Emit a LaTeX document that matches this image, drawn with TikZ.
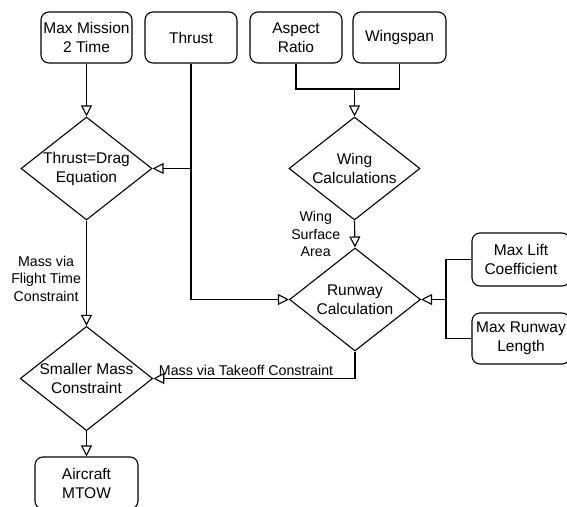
\documentclass[tikz,border=0pt]{standalone}
\usepackage{fontspec}
\setmainfont{Liberation Sans}
\usetikzlibrary{shapes.geometric,arrows.meta}
\begin{document}
\begin{tikzpicture}[x=1pt,y=-1pt,
 box/.style={draw, rounded corners=8pt, line width=1.1pt, align=center, font=\fontsize{15.5}{19}\selectfont, inner sep=0pt},
 dia/.style={draw, diamond, aspect=1.27, line width=1.1pt, align=center, inner sep=0pt, minimum width=131pt, minimum height=103pt, font=\fontsize{15.5}{19}\selectfont},
 conn/.style={line width=1.1pt},
 arr/.style={conn, -{Triangle[open, length=11pt, width=11pt]}},
 lab/.style={font=\fontsize{14.2}{17.5}\selectfont, align=center, inner sep=2pt}]
\useasboundingbox (0,0) rectangle (567,506);
\fill[white] (0,0) rectangle (567,506);
% top boxes
\node[box, minimum width=91pt, minimum height=51pt] (mm) at (86.5,37.5) {Max Mission\\2 Time};
\node[box, minimum width=92pt, minimum height=51pt] (th) at (191,37.5) {Thrust};
\node[box, minimum width=92pt, minimum height=51pt] (ar) at (296,37.5) {Aspect\\Ratio};
\node[box, minimum width=93pt, minimum height=51pt] (ws) at (399.5,37.5) {Wingspan};
% diamonds
\node[dia] (td) at (86.5,168.5) {Thrust=Drag\\Equation};
\node[dia] (wc) at (354.5,168.5) {Wing\\Calculations};
\node[dia] (rw) at (355,299.5) {Runway\\Calculation};
\node[dia] (sm) at (86.5,378.5) {Smaller Mass\\Constraint};
% right boxes
\node[box, minimum width=98pt, minimum height=53pt] (ml) at (521,259.5) {Max Lift\\Coefficient};
\node[box, minimum width=98pt, minimum height=51pt] (mr) at (521,338.5) {Max Runway\\Length};
% bottom box
\node[box, minimum width=103pt, minimum height=52pt] (mt) at (86.5,483) {Aircraft\\MTOW};
% junctions
\coordinate (j1) at (354.5,89);
\coordinate (j2) at (446,299.5);
% connectors
\draw[arr] (mm.south) -- (td.north);
\draw[arr] (th.south) |- (td.east);
\draw[arr] (th.south) |- (rw.west);
\draw[conn] (ar.south) |- (j1) -| (ws.south);
\draw[arr] (j1) -- (wc.north);
\draw[arr] (wc.south) -- node[lab, left=12pt] {Wing\\Surface\\Area} (rw.north);
\draw[conn] (ml.west) -| (j2) |- (mr.west);
\draw[arr] (j2) -- (rw.east);
\draw[arr] (rw.south) |- node[lab, above, pos=0.77] {Mass via Takeoff Constraint} (sm.east);
\draw[arr] (td.south) -- node[lab, left=3pt, pos=0.55] {Mass via\\Flight Time\\Constraint} (sm.north);
\draw[arr] (sm.south) -- (mt.north);
\end{tikzpicture}
\end{document}
